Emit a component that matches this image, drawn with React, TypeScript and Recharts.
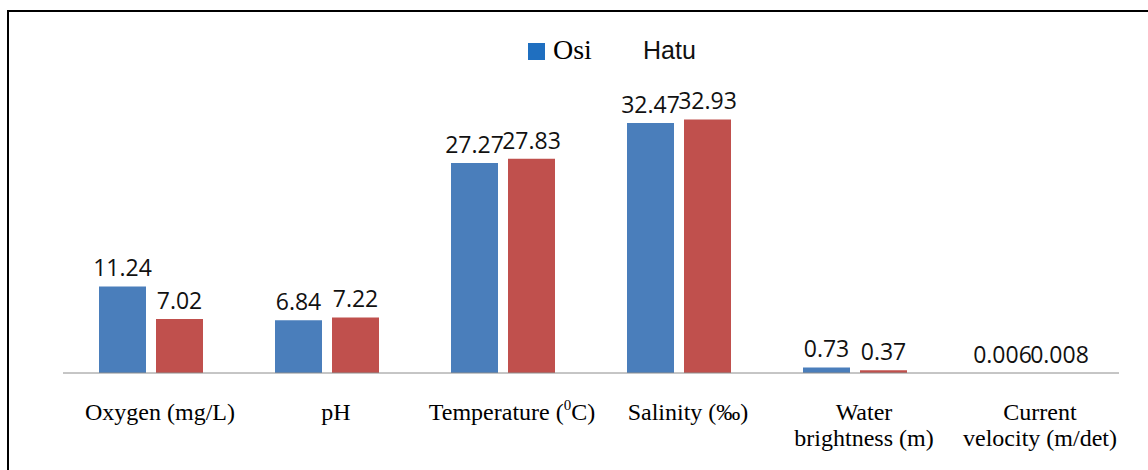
import React from 'react';
import { BarChart, Bar, XAxis, YAxis, Legend, LabelList } from 'recharts';

const categories = [
  'Oxygen (mg/L)',
  'pH',
  'Temperature (^0C)',
  'Salinity (‰)',
  'Water|brightness (m)',
  'Current|velocity (m/det)',
];
const osi = [11.24, 6.84, 27.27, 32.47, 0.73, 0.006];
const hatu = [7.02, 7.22, 27.83, 32.93, 0.37, 0.008];

const data = categories.map((name, i) => ({ name, osi: osi[i], hatu: hatu[i] }));

const renderLine = (line: string) => {
  const m = line.match(/^(.*)\^(\w)(.*)$/);
  if (!m) return line;
  return (
    <>
      {m[1]}
      <tspan dy={-10} fontSize={15}>{m[2]}</tspan>
      <tspan dy={10}>{m[3]}</tspan>
    </>
  );
};

const CategoryTick = (props: any) => {
  const { x, y, payload } = props;
  const lines = String(payload.value).split('|');
  return (
    <text
      x={x + 9}
      y={y}
      textAnchor="middle"
      fontFamily="'Liberation Serif', 'Times New Roman', serif"
      fontSize={24}
      fill="#000"
    >
      {lines.map((l, i) => (
        <tspan key={i} x={x + 9} y={y + 47 + i * 26}>
          {renderLine(l)}
        </tspan>
      ))}
    </text>
  );
};

const LegendBox = () => (
  <div style={{ position: 'relative', width: 1148, height: 36 }}>
    <span style={{ position: 'absolute', left: 528, top: 9, width: 17, height: 17, background: '#1f6fc0' }} />
    <span
      style={{
        position: 'absolute',
        left: 553,
        top: -2,
        fontFamily: "'Liberation Serif', serif",
        fontSize: 28,
        color: '#000',
        lineHeight: '36px',
      }}
    >
      Osi
    </span>
    <span
      style={{
        position: 'absolute',
        left: 643,
        top: -2,
        fontFamily: "'Liberation Sans', Arial, sans-serif",
        fontSize: 25,
        color: '#111',
        lineHeight: '36px',
      }}
    >
      Hatu
    </span>
  </div>
);

const labelStyle = { fontFamily: "'Open Sans', sans-serif", fontSize: 23, fill: '#111' };

export default function App() {
  return (
    <div style={{ position: 'relative', width: 1148, height: 470, background: '#fff', overflow: 'hidden' }}>
      <style>{'body{margin:0}'}</style>
      <div
        style={{
          position: 'absolute',
          left: 7,
          top: 10,
          width: 1200,
          height: 500,
          borderTop: '2px solid #000',
          borderLeft: '2px solid #000',
        }}
      />
      <div style={{ position: 'absolute', left: 0, top: 0 }}>
        <BarChart
          width={1148}
          height={470}
          data={data}
          margin={{ top: 65, right: 29, bottom: 0, left: 63 }}
          barSize={47}
          barGap={10}
        >
          <XAxis
            dataKey="name"
            axisLine={{ stroke: '#8c8c8c', strokeWidth: 1 }}
            tickLine={false}
            tickSize={0}
            tickMargin={0}
            height={97}
            interval={0}
            tick={<CategoryTick />}
          />
          <YAxis hide domain={[0, 40]} />
          <Legend
            layout="horizontal"
            verticalAlign="middle"
            content={<LegendBox />}
            wrapperStyle={{ top: 34, left: 0, width: 1148 }}
          />
          <Bar dataKey="osi" name="Osi" fill="#4a7ebb" isAnimationActive={false}>
            <LabelList dataKey="osi" position="top" offset={10} style={labelStyle} />
          </Bar>
          <Bar dataKey="hatu" name="Hatu" fill="#c0504d" isAnimationActive={false}>
            <LabelList dataKey="hatu" position="top" offset={10} style={labelStyle} />
          </Bar>
        </BarChart>
      </div>
    </div>
  );
}
